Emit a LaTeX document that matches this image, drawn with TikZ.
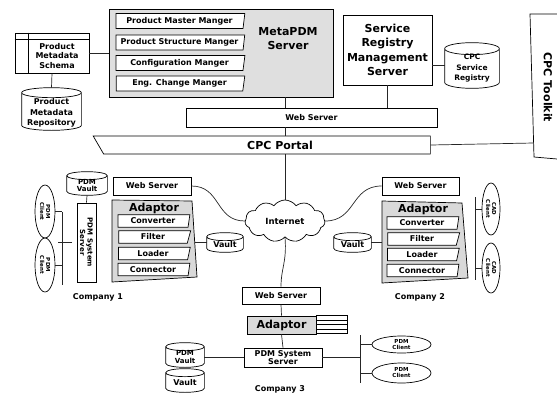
\documentclass[tikz,border=0pt]{standalone}
\usepackage{fontspec}
\setmainfont{DejaVu Sans}
\usetikzlibrary{shapes.geometric,shapes.symbols,calc}
\newcommand\fsA{\fontsize{11}{13.5}\selectfont\bfseries}
\newcommand\fsR{\fontsize{11}{14.3}\selectfont\bfseries}
\newcommand\fsB{\fontsize{8}{9.5}\selectfont\bfseries}
\newcommand\fsM{\fontsize{7.5}{10.5}\selectfont\bfseries}
\newcommand\fsC{\fontsize{7}{7.5}\selectfont\bfseries}
\newcommand\fsD{\fontsize{5.5}{6}\selectfont\bfseries}
\newcommand\cylout[2]{%
  \draw let \p1=(#1.north west), \p2=(#1.south east) in
   (\x1,\y1-#2) -- (\x1,\y2+#2)
   arc[start angle=180,end angle=360,x radius={(\x2-\x1)/2},y radius=#2]
   -- (\x2,\y1-#2)
   arc[start angle=0,end angle=180,x radius={(\x2-\x1)/2},y radius=#2]
   -- cycle
   (\x1,\y1-#2) arc[start angle=180,end angle=360,x radius={(\x2-\x1)/2},y radius=#2];
}
\begin{document}
\begin{tikzpicture}[x=1pt,y=1pt,line width=0.7pt,
  box/.style={draw, fill=white, inner sep=0pt, align=center},
  cyl/.style={inner sep=0pt},
  conn/.style={draw=black!85},
  slbox/.style={trapezium, trapezium left angle=90, trapezium right angle=101,
     trapezium stretches=true, draw, fill=white, inner sep=0pt, font=\fsB},
  cli/.style={ellipse, draw, fill=white, inner sep=0pt, align=center, font=\fsD},
  lbl/.style={font=\fsB, align=center}]
\useasboundingbox (0,0) rectangle (557,-394);

% ---------- top left: schema + repository
\node[box, minimum width=74pt, minimum height=40pt] (schema) at (52,-53) {};
\draw ([xshift=14pt]schema.north west) -- ([xshift=14pt]schema.south west);
\draw ([yshift=-7pt]schema.north west) -- ([yshift=-7pt]schema.north east);
\node[lbl] (schemat) at (57,-56) {Product\\Metadata\\Schema};
\node[cyl, minimum width=59pt, minimum height=42pt,
  label={[font=\fontsize{8}{10.5}\selectfont\bfseries, align=center, yshift=-4pt]center:Product\\Metadata\\Repository}] (pmr) at (51.5,-109) {};
\cylout{pmr}{5pt}

% ---------- MetaPDM server
\node[draw, fill=gray!25, minimum width=224pt, minimum height=88pt] (meta) at (221,-53) {};
\node[font=\fsA, align=center] (metat) at (288,-38.5) {MetaPDM\\Server};
\node[slbox, minimum width=129pt, minimum height=15pt] (m1) at (179.5,-21) {Product Master Manger};
\node[slbox, minimum width=129pt, minimum height=15pt] (m2) at (179.5,-42.5) {Product Structure Manger};
\node[slbox, minimum width=129pt, minimum height=15pt] (m3) at (179.5,-63) {Configuration Manger};
\node[slbox, minimum width=129pt, minimum height=15pt] (m4) at (179.5,-83.5) {Eng. Change Manger};

% ---------- service registry
\node[box, minimum width=89pt, minimum height=70pt, font=\fsR] (srms) at (387.5,-50) {Service\\Registry\\Management\\Server};
\node[cyl, minimum width=54pt, minimum height=45pt,
  label={[font=\fsM, align=center, yshift=-3pt]center:CPC\\Service\\Registry}] (csr) at (472,-65.5) {};
\cylout{csr}{6pt}

% ---------- web server + portal + toolkit
\node[box, minimum width=251pt, minimum height=19pt, font=\fsB] (ws0) at (311.5,-117.5) {Web Server};
\node[trapezium, trapezium left angle=109, trapezium right angle=90, trapezium stretches=true,
  draw, fill=white, inner sep=0pt, minimum width=340pt, minimum height=18pt, font=\fsA] (portal) at (267,-145) {\hspace*{26pt}CPC Portal};
\draw (557,-14) -- (530,-14) -- (534,-157) -- (557,-159);
\node[font=\fontsize{11}{12}\selectfont\bfseries, rotate=-90] (tk) at (548,-87.5) {CPC Toolkit};
\coordinate (tkl) at (533.5,-143);

% ---------- internet
\node[cloud, draw, fill=white, cloud puffs=11, cloud puff arc=110, aspect=2.2,
  minimum width=80pt, minimum height=42pt, inner sep=0pt, font=\fontsize{8.5}{10}\selectfont\bfseries] (inet) at (285,-221) {Internet};

% ---------- company 1
\node[cyl, minimum width=40pt, minimum height=23pt,
  label={[font=\fsC, align=center, yshift=-2pt]center:PDM\\Vault}] (pv1) at (87,-183.5) {};
\cylout{pv1}{4pt}
\node[box, rotate=-90, minimum width=79pt, minimum height=19pt, font=\fsC] (pss1) at (86.5,-242.5) {PDM System\\Server};
\node[cli, rotate=-90, minimum width=53pt, minimum height=20pt] (pc1a) at (45,-211.5) {PDM\\Client};
\node[cli, rotate=-90, minimum width=54pt, minimum height=20pt] (pc1b) at (45,-265) {PDM\\Client};
\coordinate (b1t) at (62,-212);
\coordinate (b1b) at (62,-285);
\node[box, minimum width=78pt, minimum height=18pt, font=\fsB] (ws1) at (152,-186) {Web Server};
\draw[fill=gray!30] (112,-200) -- (192,-201) -- (197,-277) -- (112,-282) -- cycle;
\coordinate (ad1r) at (194.7,-242.5);
\node[font=\fsA] (ad1t) at (154,-208) {Adaptor};
\node[slbox, minimum width=72pt, minimum height=12.5pt] (c1a) at (153,-221) {Converter};
\node[slbox, minimum width=72pt, minimum height=12.5pt] (c1b) at (153,-237) {Filter};
\node[slbox, minimum width=72pt, minimum height=12.5pt] (c1c) at (153,-253.5) {Loader};
\node[slbox, minimum width=72pt, minimum height=12.5pt] (c1d) at (153,-269.5) {Connector};
\node[cyl, minimum width=36pt, minimum height=19pt,
  label={[font=\fsB, yshift=-2pt]center:Vault}] (v1) at (225,-242.5) {};
\cylout{v1}{4pt}
\node[lbl] (co1) at (98,-297) {Company 1};

% ---------- company 2
\node[box, minimum width=77pt, minimum height=18pt, font=\fsB] (ws2) at (420.5,-186) {Web Server};
\draw[fill=gray!30] (382,-201) -- (462,-203) -- (468,-278) -- (382,-283) -- cycle;
\coordinate (ad2l) at (382,-242.5);
\node[font=\fsA] (ad2t) at (423,-209) {Adaptor};
\node[slbox, minimum width=72pt, minimum height=12.5pt] (c2a) at (422,-223) {Converter};
\node[slbox, minimum width=72pt, minimum height=12.5pt] (c2b) at (422,-239) {Filter};
\node[slbox, minimum width=72pt, minimum height=12.5pt] (c2c) at (422,-254.5) {Loader};
\node[slbox, minimum width=72pt, minimum height=12.5pt] (c2d) at (422,-270.5) {Connector};
\node[cyl, minimum width=37pt, minimum height=19pt,
  label={[font=\fsB, yshift=-2pt]center:Vault}] (v2) at (352.5,-242.5) {};
\cylout{v2}{4pt}
\node[cli, rotate=-90, minimum width=52pt, minimum height=18pt] (cc2a) at (491,-209) {CAD\\Client};
\node[cli, rotate=-90, minimum width=50pt, minimum height=18pt] (cc2b) at (491,-268) {CAD\\Client};
\coordinate (b2t) at (475,-197);
\coordinate (b2b) at (475,-280);
\node[lbl] (co2) at (420,-297) {Company 2};

% ---------- company 3
\node[box, minimum width=78pt, minimum height=17pt, font=\fsB] (ws3) at (281,-295.5) {Web Server};
\node[draw, fill=gray!30, inner sep=0pt, minimum width=69pt, minimum height=18pt, font=\fsA] (ad3) at (281.5,-325) {Adaptor};
\foreach \i in {0,1,2,3}
  \draw[fill=white] ($(ad3.north east)+(0,-4.5*\i)$) rectangle ++(31,-4.5);
\node[box, minimum width=78pt, minimum height=19pt, font=\fontsize{8}{7.5}\selectfont\bfseries] (pss3) at (283,-357.5) {PDM System\\Server};
\node[cyl, minimum width=38pt, minimum height=24pt,
  label={[font=\fsC, align=center, yshift=-2pt]center:PDM\\Vault}] (pv3) at (185,-355) {};
\cylout{pv3}{4pt}
\node[cyl, minimum width=38pt, minimum height=23pt,
  label={[font=\fsB, yshift=-2pt]center:Vault}] (v3) at (185,-380.5) {};
\cylout{v3}{4pt}
\node[cli, minimum width=59pt, minimum height=17pt] (pc3a) at (401.5,-344.5) {PDM\\Client};
\node[cli, minimum width=59pt, minimum height=20pt] (pc3b) at (401.5,-373) {PDM\\Client};
\coordinate (b3t) at (360,-335);
\coordinate (b3b) at (360,-383);
\node[lbl] (co3) at (280,-389) {Company 3};

% ---------- connectors
\begin{scope}[conn]
\draw (schema) -- (meta);
\draw (schema.south) -- (pmr.north);
\draw (meta.south -| inet.north) -- (ws0.north -| inet.north);
\draw (ws0.south -| inet.north) -- (portal.north -| inet.north);
\draw (portal.south -| inet.north) -- (inet.north);
\draw (srms.south) -- (srms.south |- ws0.north);
\draw (csr.west) -- (csr.west -| srms.east);
\draw (portal.east) -- (tkl);
\draw (ws1.east) to[out=0,in=180,looseness=1.2] (inet.west);
\draw (inet.east) to[out=0,in=180,looseness=1.2] (ws2.west);
\draw (inet.south) .. controls (287,-262) and (281,-268) .. (ws3.north);
% company 1
\draw (pv1.south) -- (pss1.west);
\draw (b1t) -- (b1b);
\draw ([xshift=-4.5pt]pss1.south) -- ([xshift=-4.5pt]pss1.south -| b1t);
\draw (pc1a.north) -- (pc1a.north -| b1t);
\draw (pc1b.north) -- (pc1b.north -| b1t);
\draw (v1.west) -- (ad1r);
% company 2
\draw (v2.east) -- (ad2l);
\draw (b2t) -- (b2b);
\draw (cc2a.south) -- (cc2a.south -| b2t);
\draw (cc2b.south) -- (cc2b.south -| b2t);
% company 3
\draw (ws3.south) -- (ad3.north);
\draw (ad3.south) -- (pss3.north);
\draw (pss3.west) -- (pss3.west -| pv3.east);
\draw (pss3.east) -- (pss3.east -| b3t);
\draw (b3t) -- (b3b);
\draw (pc3a.west) -- (pc3a.west -| b3t);
\draw (pc3b.west) -- (pc3b.west -| b3t);
\end{scope}
\end{tikzpicture}
\end{document}
